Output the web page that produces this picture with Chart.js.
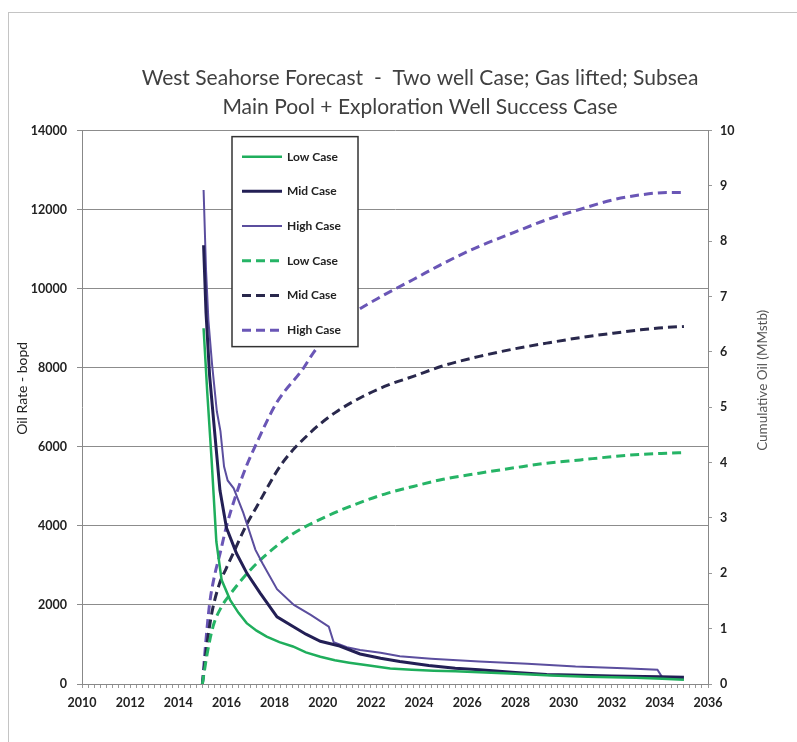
<!DOCTYPE html>
<html>
<head>
<meta charset="utf-8">
<script src="https://cdn.jsdelivr.net/npm/chart.js@4.4.1/dist/chart.umd.min.js"></script>
<style>
  html, body { margin: 0; padding: 0; background: #fff; overflow: hidden; width: 797px; height: 742px; }
  #frame { position: absolute; left: 8px; top: 12px; width: 824px; height: 748px;
           border: 1px solid #c4c4c4; box-sizing: border-box; background: #fff; }
  canvas { display: block; }
</style>
</head>
<body>
<div id="frame"><canvas id="c" width="822" height="746"></canvas></div>
<script>
// Oil rate forecasts (bopd)
const lowRateYears  = [2015.05, 2015.2, 2015.38, 2015.58, 2015.8, 2016.15, 2016.5, 2016.84, 2017.25, 2017.67, 2018.2, 2018.76, 2019.3, 2019.9, 2020.5, 2021.1, 2022.0, 2022.8, 2023.7, 2024.6, 2025.5, 2026.5, 2028.0, 2029.5, 2031.0, 2033.0, 2034.1, 2035.0];
const lowRate       = [9000, 7400, 5700, 3600, 2630, 2130, 1800, 1540, 1350, 1200, 1060, 950, 800, 690, 600, 540, 460, 390, 360, 335, 320, 300, 260, 215, 185, 160, 130, 110];

const midRateYears  = [2015.05, 2015.15, 2015.3, 2015.52, 2015.73, 2016.0, 2016.42, 2016.85, 2017.4, 2018.1, 2018.8, 2019.3, 2019.9, 2020.7, 2021.55, 2022.4, 2023.2, 2024.4, 2025.5, 2026.5, 2028.0, 2029.3, 2030.3, 2032.0, 2034.0, 2035.0];
const midRate       = [11100, 9400, 7800, 6300, 4900, 3950, 3300, 2800, 2300, 1700, 1440, 1260, 1080, 960, 760, 650, 570, 470, 400, 360, 290, 240, 225, 205, 185, 170];

const highRateYears = [2015.05, 2015.15, 2015.25, 2015.4, 2015.6, 2015.75, 2015.9, 2016.05, 2016.3, 2016.7, 2017.2, 2017.5, 2018.1, 2018.8, 2019.5, 2020.25, 2020.45, 2021.0, 2021.55, 2022.4, 2023.2, 2024.5, 2026.5, 2028.5, 2030.5, 2032.5, 2033.9, 2034.1, 2035.0];
const highRate      = [12500, 10500, 9200, 8100, 6900, 6400, 5500, 5150, 4950, 4330, 3400, 3050, 2400, 2000, 1750, 1450, 1060, 930, 860, 790, 700, 640, 570, 510, 440, 400, 360, 170, 130];

// Cumulative oil forecasts (MMstb)
const lowCumYears  = [2015.0, 2015.2, 2015.45, 2015.8, 2016.15, 2016.8, 2017.4, 2018.1, 2018.78, 2020.16, 2021.68, 2022.7, 2023.76, 2025.0, 2026.5, 2028.0, 2029.3, 2030.7, 2032.06, 2033.2, 2034.28, 2035.0];
const lowCum       = [0, 0.55, 1.05, 1.4, 1.62, 1.97, 2.24, 2.5, 2.72, 3.03, 3.3, 3.45, 3.57, 3.7, 3.81, 3.91, 3.99, 4.05, 4.11, 4.15, 4.17, 4.18];

const midCumYears  = [2015.0, 2015.2, 2015.4, 2015.7, 2016.0, 2016.3, 2016.8, 2017.25, 2018.3, 2019.5, 2020.5, 2021.68, 2022.7, 2023.76, 2025.0, 2026.5, 2028.0, 2029.3, 2030.7, 2032.06, 2033.2, 2034.14, 2035.0];
const midCum       = [0, 0.75, 1.3, 1.8, 2.1, 2.38, 2.85, 3.2, 3.98, 4.55, 4.9, 5.2, 5.4, 5.56, 5.75, 5.92, 6.06, 6.16, 6.26, 6.34, 6.4, 6.44, 6.46];

const highCumYears = [2015.0, 2015.15, 2015.3, 2015.5, 2015.73, 2016.0, 2016.42, 2016.84, 2017.25, 2018.08, 2019.2, 2019.6, 2020.3, 2021.27, 2022.5, 2023.76, 2025.0, 2026.5, 2028.0, 2029.3, 2030.7, 2032.06, 2033.2, 2034.28, 2035.0];
const highCum      = [0, 0.8, 1.45, 1.95, 2.35, 2.85, 3.45, 3.95, 4.35, 5.08, 5.71, 5.98, 6.35, 6.7, 7.02, 7.31, 7.6, 7.91, 8.17, 8.39, 8.58, 8.75, 8.84, 8.88, 8.88];

const caseLabels = ['Low Case', 'Mid Case', 'High Case'];
const titleLines = ['West Seahorse Forecast  -  Two well Case; Gas lifted; Subsea',
                    'Main Pool + Exploration Well Success Case'];
const rateAxisTitle = 'Oil Rate - bopd';
const cumAxisTitle = 'Cumulative Oil (MMstb)';

const pts = (xs, ys) => xs.map((x, i) => ({ x, y: ys[i] }));

const GREEN = '#1fae5c', NAVY = '#231f55', PURPLE = '#5b4e9e';
const FONT = 'Lato, "Open Sans", sans-serif';

function rateSet(label, xs, ys, color, width) {
  return { label, data: pts(xs, ys), yAxisID: 'y', borderColor: color, backgroundColor: color,
           borderWidth: width, pointRadius: 0, tension: 0, fill: false };
}
function cumSet(label, xs, ys, color) {
  return { label, data: pts(xs, ys), yAxisID: 'y2', borderColor: color, backgroundColor: color,
           borderWidth: 3, borderDash: [9, 5], pointRadius: 0, cubicInterpolationMode: 'monotone', fill: false };
}

// Boxed legend placed inside the plot area
const boxLegend = {
  id: 'boxLegend',
  afterDatasetsDraw(chart) {
    const { ctx, chartArea } = chart;
    const x = chartArea.left + 150, y = chartArea.top + 6, w = 126, h = 210;
    ctx.save();
    ctx.fillStyle = '#fff';
    ctx.fillRect(x, y, w, h);
    ctx.strokeStyle = '#333';
    ctx.lineWidth = 1.5;
    ctx.strokeRect(x, y, w, h);
    chart.data.datasets.forEach((ds, i) => {
      const cy = y + 20 + i * 34.7;
      ctx.beginPath();
      ctx.setLineDash(ds.borderDash || []);
      ctx.strokeStyle = ds.borderColor;
      ctx.lineWidth = ds.borderWidth;
      ctx.moveTo(x + 10, cy);
      ctx.lineTo(x + 50, cy);
      ctx.stroke();
      ctx.setLineDash([]);
      ctx.fillStyle = '#222';
      ctx.font = 'bold 12px ' + FONT;
      ctx.textBaseline = 'middle';
      ctx.textAlign = 'left';
      ctx.fillText(ds.label, x + 55, cy);
    });
    ctx.restore();
  }
};

// Rotated axis titles, both reading bottom-to-top
const axisTitles = {
  id: 'axisTitles',
  afterDraw(chart) {
    const { ctx, chartArea } = chart;
    const cy = (chartArea.top + chartArea.bottom) / 2;
    ctx.save();
    ctx.font = '14px ' + FONT;
    ctx.textAlign = 'center';
    ctx.textBaseline = 'middle';
    ctx.fillStyle = '#222';
    ctx.translate(chartArea.left - 60, cy - 19);
    ctx.rotate(-Math.PI / 2);
    ctx.fillText(rateAxisTitle, 0, 0);
    ctx.restore();
    ctx.save();
    ctx.font = '13.5px ' + FONT;
    ctx.textAlign = 'center';
    ctx.textBaseline = 'middle';
    ctx.fillStyle = '#555';
    ctx.translate(chartArea.right + 55, cy - 27);
    ctx.rotate(-Math.PI / 2);
    ctx.fillText(cumAxisTitle, 0, 0);
    ctx.restore();
  }
};

const tickFont = { family: FONT, size: 12.5, weight: 'bold' };

new Chart(document.getElementById('c'), {
  type: 'line',
  data: {
    datasets: [
      rateSet(caseLabels[0], lowRateYears, lowRate, GREEN, 2.5),
      rateSet(caseLabels[1], midRateYears, midRate, NAVY, 3),
      rateSet(caseLabels[2], highRateYears, highRate, PURPLE, 2),
      cumSet(caseLabels[0], lowCumYears, lowCum, '#26b466'),
      cumSet(caseLabels[1], midCumYears, midCum, '#29284c'),
      cumSet(caseLabels[2], highCumYears, highCum, '#6a56b6')
    ]
  },
  options: {
    responsive: false,
    animation: false,
    layout: { padding: { left: 0, right: 0, top: 0, bottom: 35 } },
    plugins: {
      legend: { display: false },
      tooltip: { enabled: false },
      title: {
        display: true,
        text: titleLines,
        color: '#404040',
        font: { family: FONT, size: 21, weight: 'normal', lineHeight: 1.42 },
        padding: { top: 50, bottom: 8 }
      }
    },
    scales: {
      x: {
        type: 'linear', position: 'bottom', min: 2010, max: 2036,
        afterFit: s => { s.height = 40; },
        ticks: {
          stepSize: 0.25, autoSkip: false, maxRotation: 0, padding: 7,
          color: '#222', font: tickFont,
          callback: v => (v % 2 === 0 ? String(v) : '')
        },
        grid: { drawOnChartArea: false, drawTicks: true, tickLength: 4, color: '#999' },
        border: { display: true, color: '#888', width: 1 }
      },
      y: {
        type: 'linear', position: 'left', min: 0, max: 14000,
        afterFit: s => { s.width = 73; },
        ticks: { stepSize: 2000, padding: 10, color: '#222', font: tickFont, callback: v => String(v) },
        grid: { color: '#8c8c8c', lineWidth: 1, tickLength: 5 },
        border: { display: true, color: '#888', width: 1 }
      },
      y2: {
        type: 'linear', position: 'right', min: 0, max: 10,
        afterFit: s => { s.width = 123; },
        ticks: { stepSize: 1, padding: 8, color: '#222', font: tickFont, callback: v => String(v) },
        grid: { drawOnChartArea: false, tickLength: 4, color: '#999' },
        border: { display: true, color: '#888', width: 1 }
      }
    }
  },
  plugins: [boxLegend, axisTitles]
});
</script>
</body>
</html>
